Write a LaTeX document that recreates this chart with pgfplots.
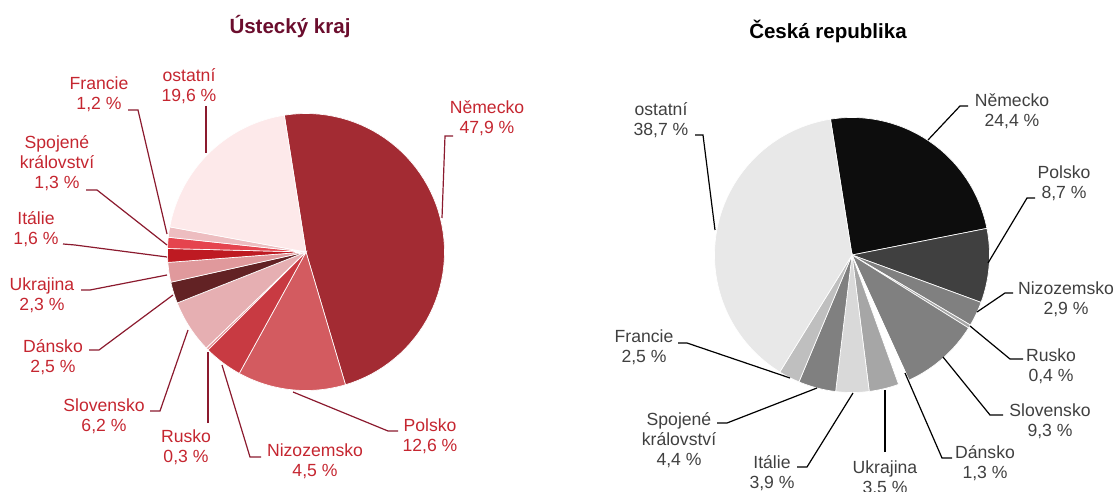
\documentclass[border=0pt]{standalone}
\usepackage{fontspec}
\setmainfont{Liberation Sans}
\usepackage{pgfplots}
\pgfplotsset{compat=1.18}

\definecolor{lNem}{HTML}{A32B33}
\definecolor{lPol}{HTML}{D35B60}
\definecolor{lNiz}{HTML}{C83A42}
\definecolor{lRus}{HTML}{E79A9E}
\definecolor{lSlo}{HTML}{E6AFB2}
\definecolor{lDan}{HTML}{622224}
\definecolor{lUkr}{HTML}{E0999C}
\definecolor{lIta}{HTML}{BE1A22}
\definecolor{lSpo}{HTML}{E5444E}
\definecolor{lFra}{HTML}{EDBDC0}
\definecolor{lOst}{HTML}{FDE9EA}
\definecolor{ltext}{HTML}{C52630}
\definecolor{lline}{HTML}{8B1A2E}
\definecolor{ltitle}{HTML}{6B0D2D}
\definecolor{rtext}{HTML}{404040}

\newcommand\piestart{99}
\def\cum{0}
% #1 cx, #2 cy, #3 r, #4 value (%), #5 colour
\newcommand\slice[5]{%
  \pgfmathsetmacro\sa{\piestart-3.6*(\cum+#4)}%
  \pgfmathsetmacro\sb{\piestart-3.6*\cum}%
  \addplot[fill=#5, draw=white, line width=0.5pt, domain=\sa:\sb, samples=60, variable=\t]
    ({#1+#3*cos(\t)},{#2-#3*sin(\t)}) -- (axis cs:#1,#2) -- cycle;
  \pgfmathsetmacro\cumn{\cum+#4}\xdef\cum{\cumn}%
}
\newcommand\lab{\fontsize{13.2}{15}\selectfont}

\begin{document}
\begin{tikzpicture}
\begin{axis}[
  width=838.5pt, height=369pt, scale only axis,
  xmin=0, xmax=1118, ymin=0, ymax=492, y dir=reverse,
  hide axis, clip=false]

% ---------------- Ústecký kraj ----------------
\gdef\cum{0}
\slice{306}{252}{138.5}{47.9}{lNem}
\slice{306}{252}{138.5}{12.6}{lPol}
\slice{306}{252}{138.5}{4.5}{lNiz}
\slice{306}{252}{138.5}{0.3}{lRus}
\slice{306}{252}{138.5}{6.2}{lSlo}
\slice{306}{252}{138.5}{2.5}{lDan}
\slice{306}{252}{138.5}{2.3}{lUkr}
\slice{306}{252}{138.5}{1.6}{lIta}
\slice{306}{252}{138.5}{1.3}{lSpo}
\slice{306}{252}{138.5}{1.2}{lFra}
\slice{306}{252}{138.5}{19.6}{lOst}

\node[font=\fontsize{15.4}{18}\selectfont\bfseries, text=ltitle] at (290,27) {Ústecký kraj};

\begin{scope}[draw=lline, line width=0.9pt]
\draw (128,110) -- (138,110) -- (167,234);
\draw (206,106) -- (206,153);
\draw (453,136) -- (445,136) -- (442,218);
\draw (86,190) -- (97,190) -- (167,245);
\draw (63,244) -- (75,245) -- (167,257);
\draw (81,290) -- (90,290) -- (167,275);
\draw (89,350) -- (99,350) -- (173,295);
\draw (150,411) -- (160,411) -- (188,330);
\draw (208,423) -- (208,352);
\draw (261,457) -- (250,457) -- (222,365);
\draw (398,431) -- (388,431) -- (293,392);
\end{scope}

\begin{scope}[every node/.style={align=center, text=ltext, font=\lab, inner sep=0pt}]
\node at (99,94) {Francie\\1,2 \%};
\node at (189,86) {ostatní\\19,6 \%};
\node at (487,118) {Německo\\47,9 \%};
\node at (57,163) {Spojené\\království\\1,3 \%};
\node at (36,229) {Itálie\\1,6 \%};
\node at (42,295) {Ukrajina\\2,3 \%};
\node at (53,357) {Dánsko\\2,5 \%};
\node at (104,416) {Slovensko\\6,2 \%};
\node at (186,447) {Rusko\\0,3 \%};
\node at (315,461) {Nizozemsko\\4,5 \%};
\node at (430,436) {Polsko\\12,6 \%};
\end{scope}

% ---------------- Česká republika ----------------
\gdef\cum{0}
\slice{852}{255}{137.5}{24.4}{black!95}
\slice{852}{255}{137.5}{8.7}{black!75}
\slice{852}{255}{137.5}{2.9}{black!50}
\slice{852}{255}{137.5}{0.4}{black!35}
\slice{852}{255}{137.5}{9.3}{black!50}
\slice{852}{255}{137.5}{1.3}{white}
\slice{852}{255}{137.5}{3.5}{black!35}
\slice{852}{255}{137.5}{3.9}{black!15}
\slice{852}{255}{137.5}{4.4}{black!50}
\slice{852}{255}{137.5}{2.5}{black!25}
\slice{852}{255}{137.5}{38.7}{black!9}

\node[font=\fontsize{15.4}{18}\selectfont\bfseries, text=black] at (828,31) {Česká republika};

\begin{scope}[draw=black, line width=0.9pt]
\draw (968,106) -- (960,106) -- (928,140);
\draw (1035,198) -- (1027,198) -- (988,263);
\draw (1013,293) -- (1005,293) -- (977,312);
\draw (1023,359) -- (1010,359) -- (970,326);
\draw (1003,415) -- (990,415) -- (943,357);
\draw (952,458) -- (942,458) -- (905,373);
\draw (885,452) -- (885,390);
\draw (797,467) -- (807,467) -- (853,393);
\draw (717,423) -- (727,423) -- (817,388);
\draw (678,343) -- (687,343) -- (790,378);
\draw (695,135) -- (703,135) -- (715,230);
\end{scope}

\begin{scope}[every node/.style={align=center, text=rtext, font=\lab, inner sep=0pt}]
\node at (1012,111) {Německo\\24,4 \%};
\node at (1064,183) {Polsko\\8,7 \%};
\node at (1066,299) {Nizozemsko\\2,9 \%};
\node at (1051,366) {Rusko\\0,4 \%};
\node at (1050,421) {Slovensko\\9,3 \%};
\node at (985,463) {Dánsko\\1,3 \%};
\node at (885,478) {Ukrajina\\3,5 \%};
\node at (772,473) {Itálie\\3,9 \%};
\node at (679,440) {Spojené\\království\\4,4 \%};
\node at (644,347) {Francie\\2,5 \%};
\node at (661,120) {ostatní\\38,7 \%};
\end{scope}
\end{axis}
\pgfresetboundingbox
\path (0,0) rectangle (838.5pt,369pt);
\end{tikzpicture}
\end{document}
